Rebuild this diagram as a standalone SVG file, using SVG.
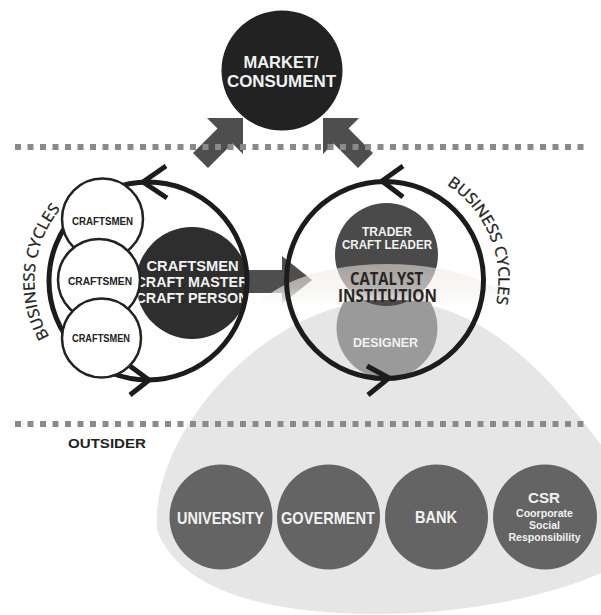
<svg xmlns="http://www.w3.org/2000/svg" width="601" height="615" viewBox="0 0 601 615">
<defs>
<style>
.dots{stroke:#8a8a8a;stroke-width:6;stroke-dasharray:6 6.5;fill:none}
.ring{fill:none;stroke:#1c1c1c;stroke-width:5}
.chev{fill:none;stroke:#1c1c1c;stroke-width:5}
.arrow{fill:#4e4e4e}
.small{fill:#fff;stroke:#222;stroke-width:2.5}
.sans{font-family:"Liberation Sans",Arial,sans-serif;font-weight:bold}
.cyc{font-family:"Open Sans","Liberation Sans",sans-serif;font-size:15.5px;fill:#231f20;stroke:#231f20;stroke-width:0.35}
.cat{font-family:"Open Sans","Liberation Sans",sans-serif;font-size:17px;font-weight:bold;fill:#2b2522;text-anchor:middle}
.ext{fill:#646464}
.wt{fill:#f2f2f2;text-anchor:middle}
</style>
<clipPath id="darkClip"><circle cx="192" cy="283" r="56"/></clipPath>
<mask id="bandMask" maskUnits="userSpaceOnUse" x="0" y="0" width="601" height="615">
<ellipse cx="387" cy="330" rx="140" ry="66" fill="#fff"/>
<ellipse cx="387" cy="360" rx="190" ry="60" fill="#000"/>
</mask>
<linearGradient id="bandGrad" gradientUnits="userSpaceOnUse" x1="0" y1="264" x2="0" y2="306">
<stop offset="0" stop-color="#f0e8e2" stop-opacity="0.56"/>
<stop offset="0.55" stop-color="#f4f0ec" stop-opacity="0.62"/>
<stop offset="1" stop-color="#ffffff" stop-opacity="0.9"/>
</linearGradient>
<path id="arcL" d="M 91.25,379.3 A 113.5 113.5 0 0 1 109.2,174.3"/>
<path id="arcR" d="M 389.9,166.6 A 113.5 113.5 0 0 1 468.7,356.7"/>
</defs>
<rect width="601" height="615" fill="#fff"/>

<g id="outsider-area">
<path d="M 157,530 C 150,430 270,300 387,300 C 480,300 545,370 601,445 L 601,573 C 540,600 450,615 370,614 C 270,613 180,592 157,530 Z" fill="#e6e6e6"/>
</g>

<g id="connectors">
<polygon class="arrow" points="243,118 243,154 232.5,143.5 208,168 193,153 217.5,128.5 207,118"/>
<polygon class="arrow" points="323,118 323,154 333.5,143.5 358,168 373,153 348.5,128.5 359,118"/>
<polygon class="arrow" points="245,270 282,270 282,256 312,280 282,304 282,293 245,293"/>
</g>

<g id="separators">
<line class="dots" x1="15" y1="147" x2="590" y2="147"/>
<line class="dots" x1="15" y1="424" x2="590" y2="424"/>
</g>

<g id="market">
<ellipse cx="282" cy="70.5" rx="60.5" ry="60" fill="#222"/>
<text class="sans wt" x="281" y="68" font-size="16.5">MARKET/</text>
<text class="sans wt" x="281.5" y="87" font-size="16.5" textLength="109" lengthAdjust="spacingAndGlyphs">CONSUMENT</text>
</g>

<g id="craftsmen-core">
<circle cx="192" cy="283" r="56" fill="#2e2e2e"/>
<g clip-path="url(#darkClip)">
<text class="sans wt" x="192.5" y="271" font-size="15" textLength="92" lengthAdjust="spacingAndGlyphs">CRAFTSMEN</text>
<text class="sans wt" x="192" y="287" font-size="15" textLength="113" lengthAdjust="spacingAndGlyphs">CRAFT MASTER</text>
<text class="sans wt" x="192" y="303" font-size="15" textLength="113" lengthAdjust="spacingAndGlyphs">CRAFT PERSON</text>
</g>
</g>

<g id="left-cycle">
<circle class="ring" cx="148" cy="281" r="99"/>
<polyline class="chev" points="166,166 143,182 167,198"/>
<polyline class="chev" points="130,366 149,380 130,395"/>
<text class="cyc"><textPath href="#arcL" startOffset="50%" text-anchor="middle" textLength="137" lengthAdjust="spacingAndGlyphs">BUSINESS CYCLES</textPath></text>
</g>

<g id="craftsmen-1">
<circle class="small" cx="102.5" cy="219" r="40.5"/>
<text class="sans" x="102.5" y="225" font-size="10" text-anchor="middle" fill="#222" textLength="61" lengthAdjust="spacingAndGlyphs">CRAFTSMEN</text>
</g>
<g id="craftsmen-2">
<circle class="small" cx="99" cy="280" r="41"/>
<text class="sans" x="100" y="285" font-size="10" text-anchor="middle" fill="#222" textLength="64" lengthAdjust="spacingAndGlyphs">CRAFTSMEN</text>
</g>
<g id="craftsmen-3">
<circle class="small" cx="101.5" cy="338" r="39.5"/>
<text class="sans" x="101" y="342" font-size="10" text-anchor="middle" fill="#222" textLength="58" lengthAdjust="spacingAndGlyphs">CRAFTSMEN</text>
</g>

<g id="designer">
<circle cx="387" cy="328" r="50.5" fill="#9a9a9a"/>
<text class="sans wt" x="385.5" y="347" font-size="12" textLength="65" lengthAdjust="spacingAndGlyphs">DESIGNER</text>
</g>
<g id="trader">
<circle cx="386.5" cy="254.5" r="51.5" fill="#4a4a4a"/>
<text class="sans wt" x="387" y="236" font-size="12">TRADER</text>
<text class="sans wt" x="387" y="249" font-size="12" textLength="90" lengthAdjust="spacingAndGlyphs">CRAFT LEADER</text>
</g>
<g id="catalyst">
<rect x="220" y="255" width="340" height="90" fill="url(#bandGrad)" mask="url(#bandMask)"/>
<text class="cat" x="386.5" y="285" textLength="73" lengthAdjust="spacingAndGlyphs">CATALYST</text>
<text class="cat" x="387.5" y="301.5" textLength="99" lengthAdjust="spacingAndGlyphs">INSTITUTION</text>
</g>

<g id="right-cycle">
<circle class="ring" cx="385" cy="280" r="98.5"/>
<polyline class="chev" points="403,166 382,181 403,197"/>
<polyline class="chev" points="367,366 389,378 368,395"/>
<text class="cyc"><textPath href="#arcR" startOffset="50%" text-anchor="middle" textLength="137" lengthAdjust="spacingAndGlyphs">BUSINESS CYCLES</textPath></text>
</g>

<g id="outsider-label">
<text class="sans" x="68" y="448" font-size="13.5" fill="#222" textLength="78" lengthAdjust="spacingAndGlyphs">OUTSIDER</text>
</g>

<g id="university">
<ellipse class="ext" cx="221" cy="517" rx="51.5" ry="52.5"/>
<text class="sans wt" x="220.5" y="524" font-size="17" textLength="87" lengthAdjust="spacingAndGlyphs">UNIVERSITY</text>
</g>
<g id="goverment">
<ellipse class="ext" cx="328.5" cy="517" rx="51.5" ry="52.5"/>
<text class="sans wt" x="328" y="524" font-size="17" textLength="94" lengthAdjust="spacingAndGlyphs">GOVERMENT</text>
</g>
<g id="bank">
<ellipse class="ext" cx="436.5" cy="517" rx="51.5" ry="52.5"/>
<text class="sans wt" x="436" y="523" font-size="17" textLength="42" lengthAdjust="spacingAndGlyphs">BANK</text>
</g>
<g id="csr">
<ellipse class="ext" cx="545" cy="517" rx="52" ry="52.5"/>
<text class="sans wt" x="544" y="503" font-size="14" textLength="32" lengthAdjust="spacingAndGlyphs">CSR</text>
<text class="sans wt" x="544.5" y="517" font-size="10.5" textLength="57" lengthAdjust="spacingAndGlyphs">Coorporate</text>
<text class="sans wt" x="544.5" y="529" font-size="10.5" textLength="31" lengthAdjust="spacingAndGlyphs">Social</text>
<text class="sans wt" x="544.5" y="541" font-size="10.5" textLength="72" lengthAdjust="spacingAndGlyphs">Responsibility</text>
</g>
</svg>
